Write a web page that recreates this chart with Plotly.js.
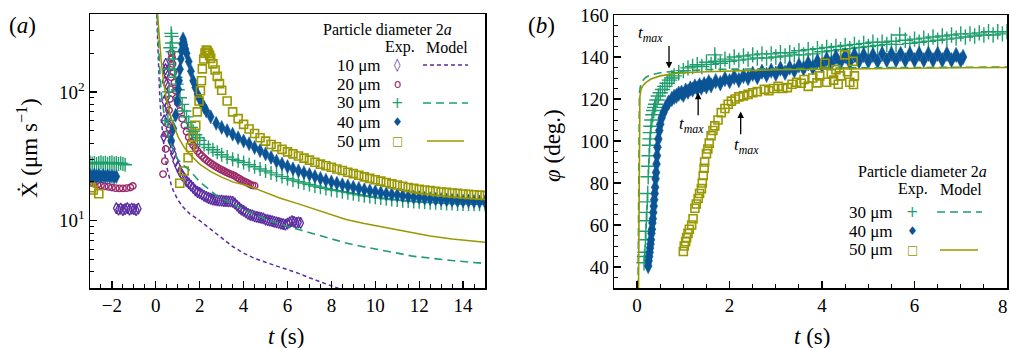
<!DOCTYPE html>
<html>
<head>
<meta charset="utf-8">
<script src="https://cdn.plot.ly/plotly-3.0.1.min.js"></script>
<style>html,body{margin:0;padding:0;background:#fff}#chart{width:1010px;height:348px}</style>
</head>
<body>
<div id="chart"></div>
<script>
// ---------- Panel (a): velocity vs time, pairs [t (s), Xdot (um/s)] ----------
const exp10 = [[-1.8,12.5],[-1.7,12.2],[-1.6,12.4],[-1.5,12.1],[-1.4,12.3],[-1.3,12.5],[-1.2,12.2],[-1.1,12.4],[-1.0,12.3],[-0.9,12.1],[-0.8,12.4],
 [0.36,45],[0.38,60],[0.4,85],[0.42,120],[0.44,150],[0.45,165],[0.47,140],[0.49,115],[0.51,92],[0.53,78],[0.56,64],[0.6,52],[0.65,46],[0.7,41],[0.75,36],
 [0.8,33],[0.9,29],[1.0,26.3],[1.1,24.2],[1.2,22.6],[1.3,21.3],[1.4,20.2],[1.5,19.5],[1.6,18.7],[1.7,18.0],[1.8,17.2],[1.9,16.7],[2.0,16.4],
 [2.1,16.0],[2.2,15.6],[2.3,15.3],[2.4,15.0],[2.5,14.8],[2.6,14.6],[2.7,14.5],[2.8,14.4],[2.9,14.3],[3.0,14.3],[3.1,14.2],[3.2,14.2],[3.3,14.1],[3.4,14.1],
 [3.5,14.0],[3.6,13.6],[3.7,13.1],[3.8,12.6],[3.9,12.2],[4.0,11.9],[4.1,11.6],[4.2,11.3],[4.3,11.1],[4.4,11.0],[4.5,10.8],[4.6,10.7],[4.7,10.6],[4.8,10.5],
 [4.9,10.4],[5.0,10.2],[5.1,10.1],[5.2,10.0],[5.3,9.9],[5.4,9.8],[5.5,9.7],[5.6,9.6],[5.7,9.5],[5.8,9.4],[5.9,9.3],[6.0,9.5],[6.1,9.7],[6.2,9.9],[6.3,9.8],
 [6.4,9.6],[6.5,9.7],[6.6,9.6]];
const exp20 = [[-3.0,19.6],[-2.83,19.4],[-2.66,19.0],[-2.5,18.8],[-2.33,18.5],[-2.16,18.3],[-2.0,18.1],[-1.83,17.9],[-1.66,17.8],[-1.5,17.8],[-1.33,17.9],[-1.16,18.1],[-1.05,18.6],
 [0.33,23],[0.41,29],[0.45,36],[0.52,47],[0.56,56],[0.6,72],[0.64,88],[0.67,105],[0.69,130],[0.7,155],[0.71,180],[0.72,200],[0.74,185],[0.76,165],[0.8,142],
 [0.85,118],[0.9,102],[0.95,90],[1.0,82],[1.1,71],[1.2,62],[1.3,55],[1.4,49],[1.5,44.5],[1.6,41],[1.7,38.5],[1.8,36.5],[1.9,34.7],[2.0,33],[2.1,31.8],
 [2.2,30.6],[2.3,29.6],[2.4,28.7],[2.5,27.9],[2.6,27.2],[2.7,26.5],[2.8,25.9],[2.9,25.3],[3.0,24.8],[3.1,24.3],[3.2,23.8],[3.3,23.4],[3.4,23.0],[3.5,22.6],
 [3.6,22.2],[3.7,21.7],[3.8,21.2],[3.9,20.7],[4.0,20.3],[4.1,19.9],[4.2,19.5],[4.3,19.1],[4.4,18.8],[4.5,18.7]];
const exp30 = [[-3.0,28.3],[-2.9,27.8],[-2.8,28.1],[-2.7,27.6],[-2.6,28.0],[-2.5,28.4],[-2.4,27.9],[-2.3,28.2],[-2.2,27.7],[-2.1,28.0],[-2.0,28.3],[-1.9,27.8],
 [-1.8,28.1],[-1.7,27.6],[-1.6,27.9],[-1.5,27.5],[-1.4,27.2],
 [0.55,60],[0.6,100],[0.62,150],[0.66,220],[0.7,285],[0.72,270],[0.74,240],[0.77,205],[0.8,180],[0.85,150],[0.9,130],[0.95,115],[1.0,104],[1.1,90],[1.2,80],
 [1.3,71],[1.4,64],[1.5,58],[1.6,53],[1.7,49.5],[1.8,46.5],[1.9,44],[2.0,42],[2.2,39],[2.4,37],[2.6,35.5],[2.8,34],[3.0,32.5],[3.25,31.2],[3.5,30],
 [3.75,29.2],[4.0,28.3],[4.25,27.2],[4.5,26.2],[4.75,25.2],[5.0,24.3],[5.25,23.5],[5.5,22.7],[5.75,22],[6.0,21.3],[6.25,20.7],[6.5,20.1],[6.75,19.6],
 [7.0,19.1],[7.25,18.6],[7.5,18.2],[7.75,17.8],[8.0,17.4],[8.25,17.1],[8.5,16.8],[8.75,16.5],[9.0,16.2],[9.25,15.9],[9.5,15.6],[9.75,15.4],[10.0,15.2],
 [10.25,15.0],[10.5,14.8],[10.75,14.6],[11.0,14.5],[11.25,14.3],[11.5,14.2],[11.75,14.1],[12.0,14.0],[12.25,13.9],[12.5,13.8],[12.75,13.8],[13.0,13.7],
 [13.25,13.6],[13.5,13.6],[13.75,13.5],[14.0,13.5],[14.25,13.5],[14.5,13.4],[14.75,13.4],[15.0,13.4]];
const exp40 = [[-3.0,22.5],[-2.9,22.0],[-2.8,22.6],[-2.7,22.1],[-2.6,22.5],[-2.5,22.0],[-2.4,22.4],[-2.3,22.0],[-2.2,22.3],[-2.1,21.9],[-2.0,22.2],[-1.9,21.8],[-1.8,22.0],
 [0.7,42],[0.8,52],[0.9,66],[0.97,85],[1.02,105],[1.06,122],[1.1,150],[1.14,180],[1.17,209],[1.2,235],[1.24,258],[1.27,245],[1.3,232],[1.35,215],[1.4,200],
 [1.5,172],[1.6,145],[1.7,122],[1.8,108],[1.9,96],[2.0,88],[2.1,81],[2.2,76],[2.3,71],[2.5,64],[2.75,57],[3.0,53],[3.25,50],[3.5,47],[3.75,44],[4.0,41.5],
 [4.25,39.5],[4.5,37],[4.75,35],[5.0,33],[5.25,31],[5.5,29],[5.75,27.5],[6.0,26.3],[6.25,25.3],[6.5,24.4],[6.75,23.6],[7.0,22.8],[7.25,22],[7.5,21.3],
 [7.75,20.6],[8.0,20],[8.25,19.5],[8.5,19],[8.75,18.6],[9.0,18.2],[9.25,17.8],[9.5,17.4],[9.75,17.1],[10.0,16.8],[10.25,16.5],[10.5,16.2],[10.75,16],
 [11.0,15.8],[11.25,15.6],[11.5,15.4],[11.75,15.2],[12.0,15.1],[12.25,14.9],[12.5,14.8],[12.75,14.7],[13.0,14.6],[13.25,14.5],[13.5,14.4],[13.75,14.3],
 [14.0,14.2],[14.25,14.2],[14.5,14.1],[14.75,14.0],[15.0,14.0]];
const exp50 = [[-2.95,18],[-2.85,17.3],[-2.6,16.2],
 [1.09,19.5],[1.29,24.3],[1.47,30.8],[1.58,37],[1.7,44.6],[1.82,55],[1.89,70],[1.97,85],[2.03,102],[2.08,122],[2.12,151],[2.18,180],[2.24,200],[2.3,211],
 [2.35,208],[2.4,200],[2.45,192],[2.5,182],[2.6,165],[2.7,148],[2.8,132],[2.9,116],[3.0,103],[3.25,85],[3.5,70],[3.75,62],[4.0,56],[4.25,51.5],[4.5,47.5],
 [4.75,44],[5.0,41.5],[5.25,39],[5.5,37.5],[5.75,35.8],[6.0,34.2],[6.25,33],[6.5,31.8],[6.75,30.6],[7.0,29.5],[7.25,28.4],[7.5,27.5],[7.75,26.7],[8.0,26],
 [8.25,25.2],[8.5,24.5],[8.75,23.8],[9.0,23.2],[9.25,22.5],[9.5,21.9],[9.75,21.3],[10.0,20.8],[10.25,20.3],[10.5,19.8],[10.75,19.3],[11.0,18.9],[11.25,18.5],
 [11.5,18.1],[11.75,17.8],[12.0,17.5],[12.25,17.3],[12.5,17.1],[12.75,16.9],[13.0,16.7],[13.25,16.6],[13.5,16.4],[13.75,16.3],[14.0,16.1],[14.25,16.0],
 [14.5,15.9],[14.75,15.8],[15.0,15.7]];
const model10 = [[0.04,400],[0.08,250],[0.12,160],[0.18,91],[0.25,60],[0.32,44],[0.41,33],[0.5,26],[0.6,21.5],[0.7,19],[0.79,17.2],[1.0,14.5],[1.25,12.7],
 [1.55,11.3],[2.0,10.0],[2.5,8.6],[3.0,7.3],[3.5,6.3],[4.0,5.6],[4.5,5.1],[5.0,4.75],[5.5,4.45],[6.0,4.2],[6.5,3.9],[7.0,3.6],[7.5,3.35],[8.0,3.12],[8.5,2.9]];
const model30 = [[0.06,400],[0.1,260],[0.15,170],[0.2,125],[0.27,90],[0.35,70],[0.45,55],[0.6,43],[0.8,35],[1.0,30],[1.25,27],[1.55,24.5],[2.0,20],[2.3,18.2],
 [2.8,15.5],[3.5,13.5],[4.4,11.3],[5.0,10.3],[5.5,9.6],[6.0,9.0],[6.55,8.5],[7.0,8.1],[7.5,7.6],[8.0,7.2],[8.67,6.7],[9.5,6.25],[10.0,6.0],[11.0,5.6],
 [11.7,5.3],[12.5,5.1],[13.5,4.9],[14.7,4.7],[15.0,4.65]];
const model50 = [[0.08,400],[0.15,260],[0.25,170],[0.35,120],[0.5,85],[0.7,62],[1.02,44.6],[1.3,37],[1.6,32],[2.0,27.5],[2.5,24],[3.0,21.8],[3.5,20],
 [4.27,18.5],[5.0,16.5],[5.64,15],[6.5,13.5],[7.5,11.8],[8.67,10.2],[9.5,9.5],[10.5,8.8],[11.7,8.0],[12.5,7.6],[13.5,7.2],[14.7,6.9],[15.0,6.8]];

// ---------- Panel (b): angle vs time, pairs [t (s), phi (deg)] ----------
const ang30 = [[0.15,42],[0.16,45],[0.17,47],[0.18,53],[0.19,57],[0.2,62],[0.21,66],[0.22,71],[0.23,75],[0.24,83],[0.25,88],[0.26,93],[0.27,98],[0.28,101],
 [0.29,104],[0.3,107],[0.32,110],[0.34,112.5],[0.36,114.5],[0.38,116],[0.4,117.5],[0.43,119.5],[0.46,121.4],[0.5,123],[0.55,124.5],[0.6,126],[0.65,127.5],
 [0.7,129],[0.75,130],[0.8,131],[0.9,132.5],[1.0,133.5],[1.1,134.8],[1.2,135.5],[1.3,136.3],[1.4,135.5],[1.5,137.5],[1.6,136.5],[1.68,141],[1.7,138],
 [1.8,137],[1.9,139],[2.0,138],[2.1,140],[2.2,138.5],[2.3,140.5],[2.4,139],[2.5,141],[2.6,139.5],[2.7,141.5],[2.8,139.5],[2.9,141.5],[3.0,140],[3.1,142],
 [3.2,140.5],[3.3,142],[3.4,141],[3.5,143],[3.6,141],[3.7,143.5],[3.8,141.5],[3.9,144],[4.0,142.5],[4.1,144.5],[4.2,143],[4.3,145],[4.4,143.5],[4.5,145.5],
 [4.6,144],[4.7,146],[4.8,144.5],[4.9,146.5],[5.0,145],[5.1,147],[5.2,145.5],[5.3,147],[5.4,146],[5.5,147.5],[5.6,146],[5.68,150.5],[5.8,148],[5.9,146.5],
 [6.0,148.5],[6.1,147],[6.2,149],[6.3,147.5],[6.4,149.5],[6.5,148],[6.6,150],[6.7,148.5],[6.8,150.5],[6.9,149],[7.0,151],[7.1,149.5],[7.2,151],[7.3,150],
 [7.4,151.5],[7.5,150.5],[7.6,152],[7.7,150.5],[7.8,152],[7.9,151],[8.0,152]];
const ang40 = [[0.24,40.5],[0.25,43],[0.26,45],[0.27,47],[0.28,49],[0.29,51],[0.3,53],[0.31,56],[0.32,58],[0.33,61],[0.34,63],[0.35,66],[0.36,69],[0.37,72],
 [0.38,75],[0.39,78],[0.4,82],[0.41,85],[0.42,89],[0.43,93],[0.44,97],[0.46,101],[0.48,105],[0.5,108],[0.53,111],[0.57,113.5],[0.62,116],[0.68,118.3],
 [0.75,120],[0.8,121],[0.85,121.5],[0.9,122.5],[0.96,123],[1.0,122],[1.05,124],[1.1,123.5],[1.15,125],[1.2,124.5],[1.25,126],[1.3,125],[1.35,126.5],
 [1.39,125.4],[1.45,127],[1.5,126],[1.55,128],[1.6,126.5],[1.7,128.5],[1.8,127.5],[1.9,129.5],[2.0,128.5],[2.1,130.5],[2.2,129],[2.3,131],[2.4,130],
 [2.5,132],[2.6,130.5],[2.7,133],[2.8,131.5],[2.9,133.5],[3.0,132],[3.1,134.5],[3.2,132.5],[3.3,135],[3.4,133.5],[3.5,136],[3.6,134.5],[3.7,137],[3.8,135],
 [3.9,138],[4.0,136],[4.1,139],[4.2,137],[4.3,140],[4.4,137.5],[4.5,140.5],[4.6,137.5],[4.7,141],[4.8,138],[4.9,141],[5.0,138],[5.1,141],[5.2,138],[5.3,141.5],
 [5.4,138.5],[5.5,141.5],[5.6,138.5],[5.7,141.5],[5.8,138.5],[5.9,141.5],[6.0,138.5],[6.1,141.5],[6.2,138.5],[6.3,141.5],[6.4,138.5],[6.5,141.5],[6.6,138.5],
 [6.7,141.5],[6.8,138.5],[6.9,141],[7.0,138.5],[7.05,140]];
const ang50 = [[1.0,47.4],[1.02,50],[1.05,52],[1.07,54],[1.1,56],[1.13,58],[1.18,60],[1.21,63],[1.25,68],[1.28,70],[1.32,72.6],[1.35,75],[1.39,77.3],[1.41,80],
 [1.43,83.6],[1.45,87],[1.46,90],[1.5,94],[1.53,96.2],[1.56,99],[1.6,102.5],[1.64,105],[1.68,107.2],[1.75,110],[1.82,113.5],[1.9,115.5],[1.97,117.5],[2.04,119],
 [2.12,120],[2.2,121],[2.3,121.5],[2.4,122.2],[2.5,123],[2.6,123.5],[2.75,124.6],[2.85,124],[2.95,125],[3.05,126],[3.15,125],[3.25,125.4],[3.35,127],[3.45,128],
 [3.55,127.5],[3.61,129.3],[3.7,126],[3.8,130],[3.89,127.7],[3.95,131],[4.06,137],[4.1,128],[4.2,132],[4.25,129],[4.3,134],[4.35,127],[4.4,131],[4.49,141],
 [4.55,133],[4.6,128],[4.67,137.9],[4.68,126.9],[4.7,131]];
const angModel30 = [[0.02,30],[0.025,60],[0.03,90],[0.035,110],[0.04,118],[0.05,123],[0.07,126],[0.1,128],[0.15,129.5],[0.2,130.5],[0.3,131.5],[0.5,132.5],
 [0.7,133],[1,133.5],[1.5,134],[2,134.2],[3,134.5],[4,134.7],[5,134.9],[6,135],[7,135.1],[8,135.2]];
const angModel50 = [[0.03,30],[0.035,60],[0.04,90],[0.045,110],[0.05,117],[0.06,121],[0.08,124],[0.1,125.5],[0.15,127],[0.2,128],[0.3,129.5],[0.5,131],
 [0.7,131.8],[1,132.5],[1.5,133],[2,133.4],[3,133.9],[4,134.2],[5,134.5],[6,134.7],[7,134.9],[8,135]];

// t_max markers on panel (b): [t, phi at arrow head, phi at arrow tail]
const tmaxArrows = [[0.69,134.5,146],[1.32,123,111.5],[2.24,114,102.5]];

const sizesA = ['10 μm','20 μm','30 μm','40 μm','50 μm'];
const sizesB = ['30 μm','40 μm','50 μm'];

// ---------- styling ----------
const FONT = 'Liberation Serif';
const C = {p:'#5b2c9f', m:'#9c2a68', g:'#1e9e6c', b:'#0b5496', o:'#9a9800'};
const X = a => a.map(d => d[0]);
const Y = a => a.map(d => d[1]);

function mk(data, col, sym, size, lw, xa, ya){
  return {x:X(data), y:Y(data), type:'scatter', mode:'markers', xaxis:xa, yaxis:ya, showlegend:false,
    marker:{symbol:sym, size:size, color:col, line:{color:col, width:lw}}};
}
function ln(data, col, dash, w, xa, ya){
  return {x:X(data), y:Y(data), type:'scatter', mode:'lines', xaxis:xa, yaxis:ya, showlegend:false,
    line:{color:col, dash:dash, width:w}};
}

const traces = [
  mk(exp10, C.p, 'diamond-tall-open', 8, 1.3, 'x', 'y'),
  mk(exp20, C.m, 'circle-open', 6.5, 1.4, 'x', 'y'),
  mk(exp30, C.g, 'cross-thin-open', 10, 1.4, 'x', 'y'),
  mk(exp40, C.b, 'diamond-tall', 10, 0.5, 'x', 'y'),
  mk(exp50, C.o, 'square-open', 8, 1.6, 'x', 'y'),
  ln(model10, C.p, '4px,3px', 1.5, 'x', 'y'),
  ln(model30, C.g, '8px,5px', 1.6, 'x', 'y'),
  ln(model50, C.o, 'solid', 1.5, 'x', 'y'),
  mk(ang30, C.g, 'cross-thin-open', 11, 1.4, 'x2', 'y2'),
  mk(ang40, C.b, 'diamond-tall', 11, 0.5, 'x2', 'y2'),
  mk(ang50, C.o, 'square-open', 8, 1.6, 'x2', 'y2'),
  ln(angModel30, C.g, '8px,5px', 1.6, 'x2', 'y2'),
  ln(angModel50, C.o, 'solid', 1.6, 'x2', 'y2')
];

const axBase = {showline:true, linecolor:'#000', linewidth:1.5, mirror:true, ticks:'inside', ticklen:7, tickwidth:1.3,
  tickcolor:'#000', showgrid:false, zeroline:false, tickfont:{family:FONT, size:19, color:'#000'}};

const layout = {
  width:1010, height:348, margin:{l:0, r:0, t:0, b:0}, paper_bgcolor:'#fff', plot_bgcolor:'#fff',
  font:{family:FONT, color:'#000'},
  xaxis: Object.assign({}, axBase, {domain:[90/1010, 485/1010], range:[-3, 15], dtick:2, tick0:0,
    minor:{dtick:0.5, tick0:0, ticks:'inside', ticklen:4, tickwidth:1, tickcolor:'#000'}}),
  yaxis: Object.assign({}, axBase, {domain:[1-288/348, 1-14/348], type:'log', range:[Math.log10(3), 2.605],
    tickmode:'array', tickvals:[10,100], ticktext:['10<sup>1</sup>','10<sup>2</sup>'],
    minor:{tickmode:'array', tickvals:[3,4,5,6,7,8,9,20,30,40,50,60,70,80,90,200,300,400], ticks:'inside', ticklen:4, tickwidth:1, tickcolor:'#000'}}),
  xaxis2: Object.assign({}, axBase, {anchor:'y2', domain:[614/1010, 1007/1010], range:[-0.5, 8], dtick:2, tick0:0,
    minor:{dtick:0.5, tick0:0, ticks:'inside', ticklen:4, tickwidth:1, tickcolor:'#000'}}),
  yaxis2: Object.assign({}, axBase, {anchor:'x2', domain:[1-288/348, 1-15/348], range:[30, 160], dtick:20, tick0:0,
    minor:{dtick:5, tick0:0, ticks:'inside', ticklen:4, tickwidth:1, tickcolor:'#000'}}),
  annotations: [],
  shapes: []
};

const A = layout.annotations;
function txt(px, py, text, size, opts){
  A.push(Object.assign({xref:'paper', yref:'paper', x:px/1010, y:1-py/348, text:text, showarrow:false,
    font:{family:FONT, size:size, color:'#000'}, xanchor:'center', yanchor:'middle'}, opts||{}));
}
// panel labels and axis titles
txt(22, 26, '(<i>a</i>)', 23);
txt(541, 26, '(<i>b</i>)', 23);
txt(27, 148, 'Ẋ (μm s<sup>−1</sup>)', 23, {textangle:-90});
txt(552, 146, '<i>φ</i> (deg.)', 23, {textangle:-90});
txt(286, 336, '<i>t</i> (s)', 23);
txt(812, 336, '<i>t</i> (s)', 23);
// right-edge tick label of panel (b)
txt(1003, 306, '8', 19);

// legend (a)
txt(387, 29, 'Particle diameter 2<i>a</i>', 16);
txt(400, 47, 'Exp.', 16);
txt(447, 47, 'Model', 16);
const rowsA = [65, 84, 103, 122, 141];
const symA = [['◊', C.p, 13], ['o', C.m, 12], ['+', C.g, 15], ['♦', C.b, 12], ['□', C.o, 12]];
sizesA.forEach((s, i) => {
  txt(383, rowsA[i], s, 17, {xanchor:'right'});
  A.push({xref:'paper', yref:'paper', x:397/1010, y:1-rowsA[i]/348, text:symA[i][0], showarrow:false,
    font:{family:'DejaVu Sans', size:symA[i][2], color:symA[i][1]}, xanchor:'center', yanchor:'middle'});
});
const S = layout.shapes;
function seg(x0, x1, py, col, dash){
  S.push({type:'line', xref:'paper', yref:'paper', x0:x0/1010, x1:x1/1010, y0:1-py/348, y1:1-py/348,
    line:{color:col, width:1.5, dash:dash}});
}
seg(423, 468, 65, C.p, '4px,3px');
seg(423, 468, 103, C.g, '8px,5px');
seg(427, 464, 141, C.o, 'solid');

// legend (b)
txt(922, 171, 'Particle diameter 2<i>a</i>', 16);
txt(913, 189, 'Exp.', 16);
txt(961, 189, 'Model', 16);
const rowsB = [212, 231, 250];
const symB = [['+', C.g, 15], ['♦', C.b, 12], ['□', C.o, 12]];
sizesB.forEach((s, i) => {
  txt(895, rowsB[i], s, 17, {xanchor:'right'});
  A.push({xref:'paper', yref:'paper', x:912/1010, y:1-rowsB[i]/348, text:symB[i][0], showarrow:false,
    font:{family:'DejaVu Sans', size:symB[i][2], color:symB[i][1]}, xanchor:'center', yanchor:'middle'});
});
seg(937, 982, 212, C.g, '8px,5px');
seg(940, 978, 250, C.o, 'solid');

// t_max arrows and labels on panel (b)
tmaxArrows.forEach((a, i) => {
  A.push({xref:'x2', yref:'y2', axref:'x2', ayref:'y2', x:a[0], y:a[1], ax:a[0], ay:a[2], text:'',
    showarrow:true, arrowhead:2, arrowsize:1, arrowwidth:1.3, arrowcolor:'#000', standoff:0, startstandoff:0});
});
A.push({xref:'x2', yref:'y2', x:0.3, y:151, text:'<i>t<sub>max</sub></i>', showarrow:false, font:{family:FONT, size:17, color:'#000'}});
A.push({xref:'x2', yref:'y2', x:1.17, y:107.5, text:'<i>t<sub>max</sub></i>', showarrow:false, font:{family:FONT, size:17, color:'#000'}});
A.push({xref:'x2', yref:'y2', x:2.36, y:97.5, text:'<i>t<sub>max</sub></i>', showarrow:false, font:{family:FONT, size:17, color:'#000'}});

Plotly.newPlot('chart', traces, layout, {displayModeBar:false, staticPlot:true});
</script>
</body>
</html>
